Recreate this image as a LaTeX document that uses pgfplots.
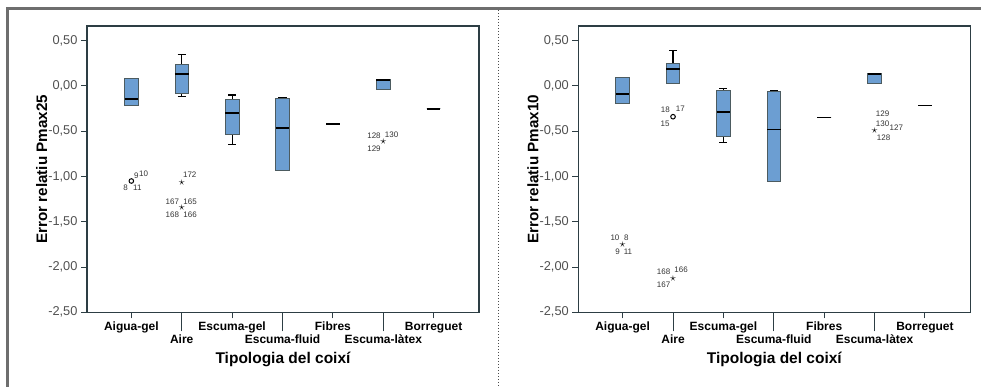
\documentclass[border=0pt]{standalone}
\usepackage{fontspec}
\setmainfont{Liberation Sans}
\usepackage{pgfplots}
\pgfplotsset{compat=1.18}
\usepgfplotslibrary{statistics}
\definecolor{boxblue}{RGB}{108,158,210}
\definecolor{axcol}{RGB}{45,62,68}
\definecolor{tickgray}{RGB}{80,80,80}
\definecolor{framegray}{RGB}{110,110,110}
\tikzset{lbl/.style={font=\fontsize{8}{9}\selectfont, text=black!80, inner sep=0pt}}
\pgfplotsset{
 panel/.style={
  scale only axis, width=392pt, height=286.3pt, anchor=south west,
  xmin=-0.88, xmax=6.9, ymin=-2.5, ymax=0.662,
  axis line style={axcol, line width=1.1pt},
  tick pos=left, tick align=outside, major tick length=6pt,
  tick style={axcol, line width=1pt},
  ytick={-2.5,-2,-1.5,-1,-0.5,0,0.5},
  yticklabels={{-2,50},{-2,00},{-1,50},{-1,00},{-0,50},{0,00},{0,50}},
  yticklabel style={font=\fontsize{12.8}{14}\selectfont, text=tickgray},
  xtick={0,2,4,6}, xticklabels={Aigua-gel,Escuma-gel,Fibres,Borreguet},
  extra x ticks={1,3,5}, extra x tick labels={Aire,Escuma-fluid,Escuma-làtex},
  extra x tick style={major tick length=19pt},
  xticklabel style={font=\bfseries\fontsize{12}{14}\selectfont, text=black},
  every axis x label/.style={at={([yshift=-47.5pt]axis description cs:0.5,0)}, anchor=center, font=\bfseries\fontsize{15.5}{18}\selectfont},
  every axis y label/.style={at={([xshift=-45.3pt]axis description cs:0,0.5)}, anchor=center, rotate=90, font=\bfseries\fontsize{15.2}{18}\selectfont},
  xlabel={Tipologia del coixí},
  boxplot/draw direction=y, boxplot/box extend=0.27, boxplot/whisker extend=0.16,
  boxplot/every box/.style={draw=axcol!85, line width=0.8pt, fill=boxblue},
  boxplot/every median/.style={draw=black, line width=1.8pt},
  boxplot/every whisker/.style={draw=black, line width=1.1pt},
  clip=false,
 },
 outo/.style={only marks, mark=o, mark size=2.3pt, line width=1pt, black},
 outs/.style={only marks, mark=text, text mark={\fontsize{13}{13}\selectfont$\star$}, black},
}
\begin{document}
\begin{tikzpicture}
\path[use as bounding box] (0pt,0pt) rectangle (981pt,387pt);
\draw[framegray, line width=2.7pt] (6.2pt,378.3pt) -- (981pt,378.3pt);
\draw[framegray, line width=2.8pt] (7.5pt,379.6pt) -- (7.5pt,0pt);
\draw[black!70, line width=1pt, dotted] (498.7pt,377pt) -- (498.7pt,0pt);

% ---------- left panel: Pmax25 ----------
\begin{axis}[panel, at={(87pt,74.7pt)}, ylabel={Error relatiu Pmax25}]
\addplot[boxplot prepared={lower whisker=-0.215, lower quartile=-0.215, median=-0.145, upper quartile=0.085, upper whisker=0.085, draw position=0}] coordinates {};
\addplot[boxplot prepared={lower whisker=-0.118, lower quartile=-0.081, median=0.133, upper quartile=0.233, upper whisker=0.344, draw position=1}] coordinates {};
\addplot[boxplot prepared={lower whisker=-0.648, lower quartile=-0.53, median=-0.30, upper quartile=-0.144, upper whisker=-0.10, draw position=2}] coordinates {};
\addplot[boxplot prepared={lower whisker=-0.937, lower quartile=-0.937, median=-0.463, upper quartile=-0.133, upper whisker=-0.133, draw position=3}] coordinates {};
\addplot[boxplot prepared={lower whisker=-0.422, lower quartile=-0.422, median=-0.422, upper quartile=-0.422, upper whisker=-0.422, draw position=4}] coordinates {};
\addplot[boxplot prepared={lower whisker=-0.04, lower quartile=-0.04, median=0.063, upper quartile=0.07, upper whisker=0.07, draw position=5}] coordinates {};
\addplot[boxplot prepared={lower whisker=-0.252, lower quartile=-0.252, median=-0.252, upper quartile=-0.252, upper whisker=-0.252, draw position=6}] coordinates {};
\addplot[outo] coordinates {(0,-1.05)};
\addplot[outs] coordinates {(1,-1.067) (1,-1.348) (5,-0.62)};
\node[lbl, xshift=-5.7pt, yshift=-6.7pt] at (axis cs:0,-1.05) {8};
\node[lbl, xshift=5pt, yshift=5.7pt] at (axis cs:0,-1.05) {9};
\node[lbl, xshift=12.3pt, yshift=7.3pt] at (axis cs:0,-1.05) {10};
\node[lbl, xshift=6pt, yshift=-6.7pt] at (axis cs:0,-1.05) {11};
\node[lbl, xshift=8pt, yshift=8pt] at (axis cs:1,-1.067) {172};
\node[lbl, xshift=-9.4pt, yshift=6.7pt] at (axis cs:1,-1.348) {167};
\node[lbl, xshift=8.3pt, yshift=6.7pt] at (axis cs:1,-1.348) {165};
\node[lbl, xshift=-9.4pt, yshift=-6.3pt] at (axis cs:1,-1.348) {168};
\node[lbl, xshift=8.3pt, yshift=-6.3pt] at (axis cs:1,-1.348) {166};
\node[lbl, xshift=-9.3pt, yshift=6.3pt] at (axis cs:5,-0.62) {128};
\node[lbl, xshift=8.3pt, yshift=7.6pt] at (axis cs:5,-0.62) {130};
\node[lbl, xshift=-9.3pt, yshift=-7pt] at (axis cs:5,-0.62) {129};
\end{axis}

% ---------- right panel: Pmax10 ----------
\begin{axis}[panel, at={(578.3pt,74.7pt)}, ylabel={Error relatiu Pmax10}]
\addplot[boxplot prepared={lower whisker=-0.19, lower quartile=-0.19, median=-0.093, upper quartile=0.093, upper whisker=0.093, draw position=0}] coordinates {};
\addplot[boxplot prepared={lower whisker=0.033, lower quartile=0.033, median=0.185, upper quartile=0.248, upper whisker=0.393, draw position=1}] coordinates {};
\addplot[boxplot prepared={lower whisker=-0.622, lower quartile=-0.559, median=-0.289, upper quartile=-0.052, upper whisker=-0.026, draw position=2}] coordinates {};
\addplot[boxplot prepared={lower whisker=-1.052, lower quartile=-1.052, median=-0.481, upper quartile=-0.056, upper whisker=-0.056, draw position=3}] coordinates {};
\addplot[boxplot prepared={lower whisker=-0.348, lower quartile=-0.348, median=-0.348, upper quartile=-0.348, upper whisker=-0.348, draw position=4}] coordinates {};
\addplot[boxplot prepared={lower whisker=0.03, lower quartile=0.03, median=0.133, upper quartile=0.133, upper whisker=0.133, draw position=5}] coordinates {};
\addplot[boxplot prepared={lower whisker=-0.215, lower quartile=-0.215, median=-0.215, upper quartile=-0.215, upper whisker=-0.215, draw position=6}] coordinates {};
\addplot[outo] coordinates {(1,-0.34)};
\addplot[outs] coordinates {(0,-1.756) (1,-2.126) (5,-0.5)};
\node[lbl, xshift=-7.7pt, yshift=7.3pt] at (axis cs:1,-0.34) {18};
\node[lbl, xshift=7.3pt, yshift=8pt] at (axis cs:1,-0.34) {17};
\node[lbl, xshift=-8pt, yshift=-6.7pt] at (axis cs:1,-0.34) {15};
\node[lbl, xshift=-7.7pt, yshift=7pt] at (axis cs:0,-1.756) {10};
\node[lbl, xshift=3.7pt, yshift=7pt] at (axis cs:0,-1.756) {8};
\node[lbl, xshift=-5pt, yshift=-6.7pt] at (axis cs:0,-1.756) {9};
\node[lbl, xshift=5.3pt, yshift=-6.7pt] at (axis cs:0,-1.756) {11};
\node[lbl, xshift=-9.4pt, yshift=7pt] at (axis cs:1,-2.126) {168};
\node[lbl, xshift=8pt, yshift=8.3pt] at (axis cs:1,-2.126) {166};
\node[lbl, xshift=-9.4pt, yshift=-6.3pt] at (axis cs:1,-2.126) {167};
\node[lbl, xshift=8pt, yshift=17pt] at (axis cs:5,-0.5) {129};
\node[lbl, xshift=8pt, yshift=7.7pt] at (axis cs:5,-0.5) {130};
\node[lbl, xshift=21.7pt, yshift=3pt] at (axis cs:5,-0.5) {127};
\node[lbl, xshift=9pt, yshift=-6.3pt] at (axis cs:5,-0.5) {128};
\end{axis}
\end{tikzpicture}
\end{document}
